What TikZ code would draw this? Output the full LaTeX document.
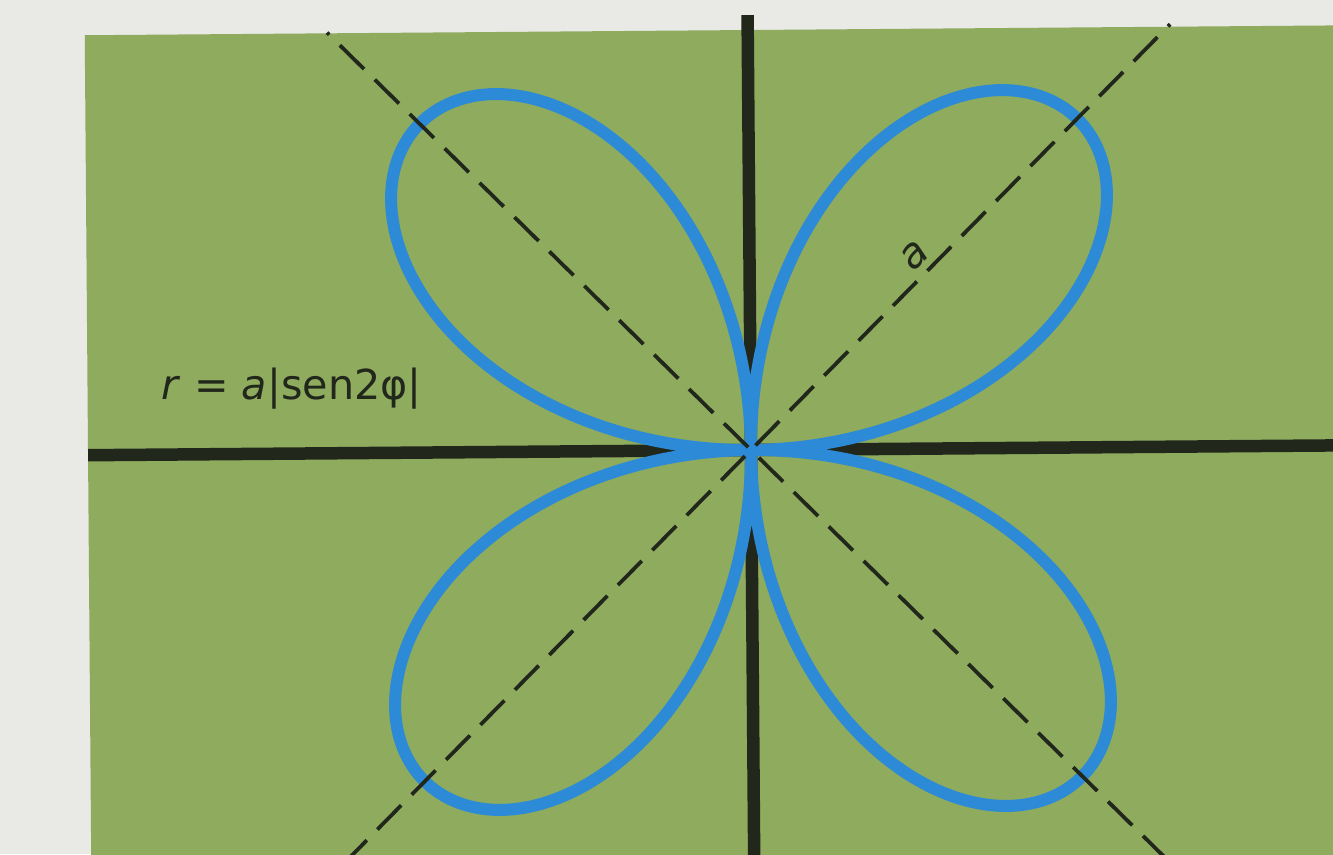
\documentclass[tikz,border=0pt]{standalone}
\usepackage{fontspec}
\setmainfont{DejaVu Sans}
\usetikzlibrary{positioning}
\definecolor{paper}{HTML}{E9E9E6}
\definecolor{leaf}{HTML}{8EAB5E}
\definecolor{ink}{HTML}{22271C}
\definecolor{petal}{HTML}{2C8AD6}

\begin{document}
\begin{tikzpicture}[
  axis/.style={draw=ink,line width=0.25cm},
  guide/.style={draw=ink,line width=0.075cm,dash pattern=on 0.68cm off 0.3cm,
                dash phase=0.62cm},
  rose/.style={draw=petal,line width=0.24cm,line join=round},
  lbl/.style={font=\fontsize{23.5}{28}\selectfont,text=ink,inner sep=0pt},
]

%------------------------------------------------------------- frame ---
\useasboundingbox[fill=paper] (-15.02,-8.08) rectangle (11.64,9.0);

\begin{scope}[rotate=0.45]
\fill[leaf] (-13.26,-9) rectangle (12.5,8.4);

%-------------------------------------------------------------- axes ---
\coordinate (o)  at (0,0);
\coordinate (xl) at (-13.26,0);
\coordinate (xr) at (12.5,0);
\coordinate (yb) at (0,-9);
\coordinate (yt) at (0,8.7);
\draw[axis] (xl) -- (xr);
\draw[axis] (yb) -- (yt);

%-------------------------------------------------------------- rose ---
\draw[rose] plot[domain=0:360,samples=721] (\x:{9.3*abs(sin(2*\x))});

%------------------------------------------------------------ guides ---
\coordinate (ul) at (135:11.9);
\coordinate (lr) at (-45:12.5);
\coordinate (ur) at (45:11.95);
\coordinate (ll) at (-135:12.5);
\draw[guide] (ul) -- (lr);
\draw[guide] (ur) -- (ll);

%------------------------------------------------------------ labels ---
\node[lbl,anchor=base west] (eq) at (-11.78,1.1)
  {\textit{r} = \textit{a}|sen2φ|};
\node[lbl,rotate=45] (len) at (3.3,3.86) {\textit{a}};
\end{scope}

\end{tikzpicture}
\end{document}
